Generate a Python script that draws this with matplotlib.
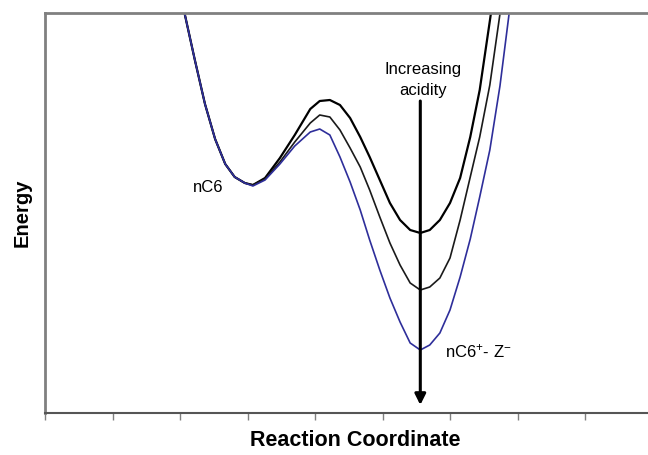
import numpy as np
import matplotlib
matplotlib.use("Agg")
import matplotlib.pyplot as plt

plt.rcParams['font.family'] = ['Liberation Sans', 'DejaVu Sans']
plt.rcParams['mathtext.fontset'] = 'custom'
plt.rcParams['mathtext.rm'] = 'Liberation Sans'
plt.rcParams['mathtext.default'] = 'regular'

# reaction coordinate (tick units) shared by the three curves
coord = [2.03, 2.07, 2.22, 2.37, 2.52, 2.67, 2.81, 2.96, 3.08, 3.26,
         3.48, 3.70, 3.93, 4.07, 4.22, 4.37, 4.52, 4.67, 4.81, 4.96,
         5.11, 5.26, 5.41, 5.56, 5.70, 5.85, 6.00, 6.15, 6.30, 6.44,
         6.59, 6.74, 6.89]

# energy profiles (arbitrary units), weakest to strongest acid
energy_low = [103.25, 99.75, 88.25, 77.25, 68.5, 62.25, 59.0, 57.5, 57.0, 58.75,
              63.75, 69.5, 76.0, 78.0, 78.25, 77.0, 73.75, 69.0, 64.0, 58.25,
              52.5, 48.25, 45.75, 45.0, 45.75, 48.25, 52.5, 58.75, 69.0, 80.75,
              98.0, 115.75, 133.25]
energy_mid = [103.25, 99.75, 88.25, 77.25, 68.5, 62.25, 59.0, 57.5, 57.0, 58.5,
              62.75, 67.75, 72.5, 74.5, 74.0, 70.75, 66.25, 61.5, 55.75, 49.0,
              42.5, 37.0, 32.5, 30.75, 31.5, 33.75, 38.75, 48.25, 59.0, 69.0,
              82.0, 99.75, 117.0]
energy_high = [103.25, 99.75, 88.25, 77.25, 68.5, 62.25, 59.0, 57.5, 56.75, 58.25,
               62.25, 66.75, 70.25, 71.0, 69.5, 64.0, 57.75, 50.75, 43.25, 35.75,
               28.75, 22.75, 17.5, 15.75, 17.0, 20.0, 25.75, 34.0, 43.5, 54.0,
               65.75, 81.75, 101.75]

fig = plt.figure(figsize=(6.48, 4.55), dpi=100)
ax = fig.add_axes([45/648, 42/455, 607.5/648, 400/455])

ax.plot(coord, energy_low, color='black', lw=1.6, solid_joinstyle='round')
ax.plot(coord, energy_mid, color='#1a1a1a', lw=1.2, solid_joinstyle='round')
ax.plot(coord, energy_high, color='#2e2e9a', lw=1.2, solid_joinstyle='round')

# arrow for increasing acidity
ax.annotate('', xy=(5.56, 2.0), xytext=(5.56, 78.0),
            arrowprops=dict(arrowstyle='-|>', color='black', lw=2.2,
                            mutation_scale=16, shrinkA=0, shrinkB=0))
ax.text(5.6, 83.25, 'Increasing\nacidity', ha='center', va='center',
        fontsize=12, linespacing=1.45)
ax.text(2.19, 56.5, 'nC6', ha='left', va='center', fontsize=12)
ax.text(5.93, 15.5, r'nC6$^{+}$- Z$^{-}$', ha='left', va='center', fontsize=12)

ax.set_xlim(0, 9)
ax.set_ylim(0, 100)
ax.set_xticks(np.arange(0, 10))
ax.set_xticklabels([])
ax.set_yticks([])
ax.tick_params(axis='x', direction='out', length=5, width=1, color='#808080')

for side in ['left', 'top']:
    ax.spines[side].set_color('#808080')
    ax.spines[side].set_linewidth(2)
ax.spines['bottom'].set_color('#555555')
ax.spines['bottom'].set_linewidth(1.5)
ax.spines['right'].set_visible(False)

fig.text(22/648, 1 - 213/455, 'Energy', rotation=90, ha='center', va='center',
         fontsize=14.5, fontweight='bold')
fig.text(355/648, 1 - 440/455, 'Reaction Coordinate', ha='center', va='center',
         fontsize=15.5, fontweight='bold')

fig.savefig('out.png', dpi=100)
